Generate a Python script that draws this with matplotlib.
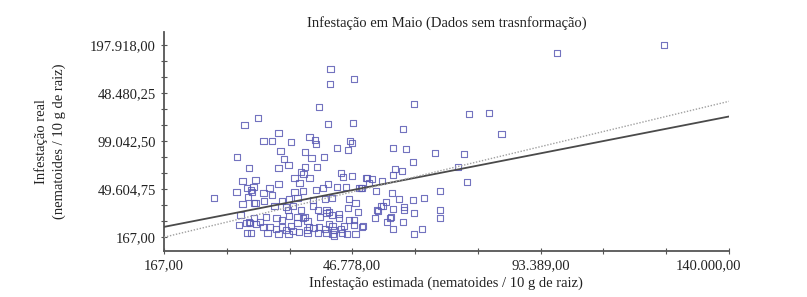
import numpy as np
import matplotlib.pyplot as plt
import matplotlib.transforms as mtransforms
from matplotlib.ticker import FixedLocator, FixedFormatter, AutoMinorLocator

# estimated vs real infestation (thousands of nematodes / 10 g root)
est_k = [41.4, 41.2, 47.2, 62.1, 38.5, 23.5, 20.1, 40.7, 46.9, 28.5,
         59.3, 24.8, 27.0, 31.7, 36.2, 37.5, 37.7, 46.2, 46.7, 29.0,
         42.9, 45.7, 56.9, 60.1, 67.3, 18.3, 35.0, 39.7, 36.7, 29.8,
         31.0, 21.3, 28.5, 35.0, 38.0, 34.0, 34.7, 36.2, 32.5, 43.9,
         44.4, 46.7, 50.1, 51.6, 54.1, 56.9, 57.3, 59.1, 61.8, 19.6,
         22.8, 28.5, 33.7, 40.7, 42.9, 45.2, 48.4, 49.1, 50.9, 52.6,
         18.1, 20.8, 22.3, 22.0, 26.3, 24.8, 32.5, 34.5, 37.7, 39.5,
         12.6, 21.0, 27.0, 25.0, 29.3, 31.2, 33.2, 37.0, 40.0, 41.7,
         45.9, 56.6, 58.3, 61.8, 64.6, 68.5, 19.6, 22.8, 27.5, 30.3,
         30.8, 32.2, 34.0, 37.0, 38.2, 40.4, 41.0, 43.4, 45.7, 47.6,
         48.1, 52.9, 54.4, 56.9, 59.6, 59.6, 62.1, 68.5, 19.1, 25.5,
         28.0, 29.3, 31.2, 33.2, 34.5, 35.0, 35.7, 38.7, 40.4, 41.7,
         43.4, 45.9, 47.2, 47.2, 49.1, 52.4, 55.4, 56.1, 59.3, 68.5,
         18.8, 20.6, 21.3, 23.0, 24.0, 24.8, 26.3, 27.8, 29.3, 30.3,
         31.7, 32.2, 33.2, 35.5, 36.0, 37.2, 38.5, 40.0, 41.0, 41.9,
         42.2, 43.9, 44.7, 20.8, 21.8, 25.8, 28.5, 31.0, 33.5, 35.7,
         38.2, 40.4, 41.9, 42.2, 44.2, 45.4, 47.6, 56.9, 62.1, 64.1,
         97.4, 124.0, 75.7, 80.7, 83.7, 74.5, 73.0, 75.2, 55.1, 53.1,
         56.4, 21.8, 22.5, 22.5, 21.5, 50.4, 48.9, 49.4, 53.9]
real_k = [173.2, 157.8, 162.9, 137.2, 134.1, 122.7, 115.5, 116.6, 117.6, 107.3,
          111.4, 99.0, 99.0, 98.0, 103.2, 100.1, 96.0, 99.0, 97.0, 88.7,
          91.8, 89.8, 91.8, 90.8, 86.7, 82.6, 87.7, 82.6, 81.5, 80.5,
          74.3, 71.2, 71.2, 72.3, 72.3, 67.1, 65.1, 60.9, 60.9, 66.1,
          62.0, 63.0, 60.9, 59.9, 57.8, 64.0, 70.2, 68.1, 77.4, 57.8,
          58.9, 54.8, 55.8, 54.8, 51.7, 51.7, 50.6, 50.6, 55.8, 47.5,
          46.5, 50.6, 51.7, 46.5, 50.6, 45.5, 46.5, 47.5, 48.6, 50.6,
          40.3, 41.4, 43.4, 37.2, 37.2, 39.3, 40.3, 38.3, 39.3, 40.3,
          39.3, 45.5, 39.3, 38.3, 40.3, 47.5, 34.2, 35.2, 32.1, 31.1,
          28.0, 32.1, 28.0, 32.1, 28.0, 28.0, 25.9, 23.9, 30.0, 35.2,
          25.9, 28.0, 32.1, 29.0, 31.1, 28.0, 24.9, 28.0, 22.8, 20.8,
          19.7, 17.7, 21.8, 20.8, 19.7, 20.8, 16.6, 20.8, 24.9, 22.8,
          19.7, 17.7, 17.7, 12.5, 10.5, 19.7, 15.6, 19.7, 15.6, 19.7,
          12.5, 14.6, 15.6, 13.6, 15.6, 10.5, 10.5, 8.4, 10.5, 7.4,
          11.5, 6.3, 14.6, 7.4, 10.5, 9.4, 10.5, 8.4, 13.6, 11.5,
          7.4, 8.4, 11.5, 4.3, 4.3, 4.3, 3.3, 3.3, 5.3, 4.3,
          4.3, 4.3, 3.3, 1.2, 4.3, 3.3, 3.3, 8.4, 3.3, 8.4,
          189.7, 197.9, 126.9, 127.9, 106.3, 85.7, 72.3, 56.8, 36.2, 27.0,
          20.8, 48.6, 35.2, 19.7, 14.6, 60.9, 50.6, 11.5, 32.1]

# fitted line
fit_intercept = 10640.0
fit_slope = 0.8124

x_ticks = [167, 46778, 93389, 140000]
x_labels = ["167,00", "46.778,00", "93.389,00", "140.000,00"]
y_ticks = [167, 49604.75, 99042.5, 148480.25, 197918]
y_labels = ["167,00", "49.604,75", "99.042,50", "48.480,25", "197.918,00"]

est = np.array(est_k) * 1000
real = np.array(real_k) * 1000

plt.rcParams['font.family'] = ['Liberation Serif', 'DejaVu Serif']

fig = plt.figure(figsize=(8.07, 2.97), dpi=100)
ax = fig.add_axes([0.2032, 0.155, 0.7, 0.737])

ax.scatter(est, real, marker='s', s=20, facecolors='none',
           edgecolors='#5a5ab4', linewidths=0.8, alpha=0.85, zorder=2)

xl = np.array([x_ticks[0], x_ticks[-1]])
ax.plot(xl, fit_intercept + fit_slope * xl, color='#4a4a4a', lw=1.3, zorder=3)
ax.plot(xl, xl, color='#a0a0a0', lw=1.0, ls=(0, (1, 1.2)), zorder=3)

ax.set_xlim(167, 140000)
ax.set_ylim(-14000, 211300)

ax.xaxis.set_major_locator(FixedLocator(x_ticks))
ax.xaxis.set_major_formatter(FixedFormatter(x_labels))
ax.yaxis.set_major_locator(FixedLocator(y_ticks))
ax.yaxis.set_major_formatter(FixedFormatter(y_labels))
ax.xaxis.set_minor_locator(AutoMinorLocator(3))
ax.yaxis.set_minor_locator(AutoMinorLocator(3))

for side in ['top', 'right']:
    ax.spines[side].set_visible(False)
for side in ['left', 'bottom']:
    ax.spines[side].set_color('#555555')
    ax.spines[side].set_linewidth(1.3)

ax.tick_params(which='both', direction='inout', length=4, width=0.8,
               color='#555555', labelsize=10.5, labelcolor='#222222', pad=4)

# the last x label sits a little left of its tick in the original
fig.canvas.draw()
lbl = ax.get_xticklabels()[-1]
lbl.set_transform(lbl.get_transform() + mtransforms.ScaledTranslation(-0.2, 0, fig.dpi_scale_trans))

ax.set_title("Infestação em Maio (Dados sem trasnformação)", fontsize=10.5,
             color='#222222', pad=4)
ax.set_xlabel("Infestação estimada (nematoides / 10 g de raiz)", fontsize=10.5,
              color='#222222', labelpad=3)
ax.set_ylabel("Infestação real\n(nematoides / 10 g de raiz)", fontsize=10.5,
              color='#222222', labelpad=17, linespacing=1.5)

fig.savefig("out.png", dpi=100)
